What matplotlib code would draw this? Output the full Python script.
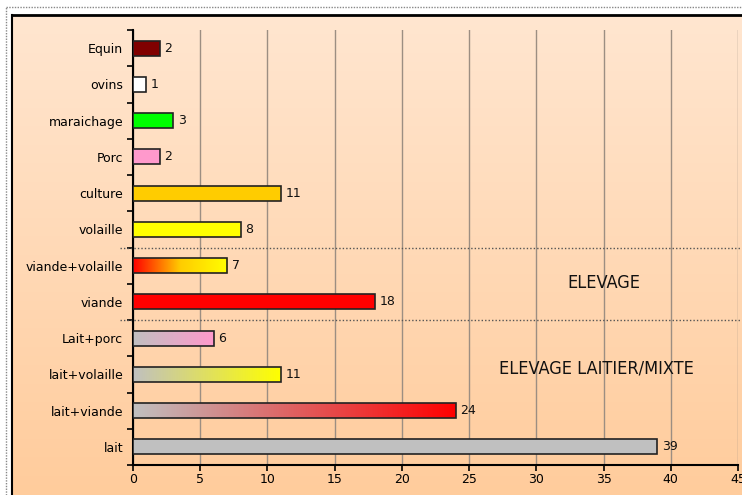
import numpy as np
import matplotlib
matplotlib.use("Agg")
import matplotlib.pyplot as plt
from matplotlib.colors import LinearSegmentedColormap
from matplotlib.lines import Line2D
import matplotlib.transforms as mtransforms

# data, listed from bottom to top
categories = ["lait", "lait+viande", "lait+volaille", "Lait+porc", "viande",
              "viande+volaille", "volaille", "culture", "Porc", "maraichage",
              "ovins", "Equin"]
values = [39, 24, 11, 6, 18, 7, 8, 11, 2, 3, 1, 2]
bar_colors = [
    ["#C0C0C0"],
    ["#C0C0C0", "#FF0000"],
    ["#C0C0C0", "#FFFF00"],
    ["#C0C0C0", "#FF99CC"],
    ["#FF0000"],
    ["#FF0000", "#FFCC00", "#FFFF00"],
    ["#FFFF00"],
    ["#FFCC00"],
    ["#FF99CC"],
    ["#00FF00"],
    ["#FFFFFF"],
    ["#800000"],
]
group_labels = ["ELEVAGE", "ELEVAGE LAITIER/MIXTE"]

W, H = 742, 495
fig = plt.figure(figsize=(W / 100, H / 100), dpi=100)
fig.patch.set_facecolor("white")

# peach gradient background inside the frame (light at the top)
bg = fig.add_axes([12 / W, 0, 1 - 12 / W, 1 - 15 / H])
bg.set_axis_off()
grad = LinearSegmentedColormap.from_list("bg", ["#FFE6D0", "#FFCC9C"])
bg.imshow(np.linspace(0, 1, 256).reshape(-1, 1), cmap=grad, aspect="auto",
          extent=[0, 1, 1, 0], origin="upper")
bg.set_xlim(0, 1)
bg.set_ylim(1, 0)

# frame and dotted border
fig.add_artist(Line2D([12 / W, 1], [1 - 15 / H] * 2, color="black", lw=2))
fig.add_artist(Line2D([12 / W] * 2, [0, 1 - 15 / H], color="black", lw=1.5))
fig.add_artist(Line2D([6 / W, 1], [1 - 7 / H] * 2, color="#888888", lw=1, ls=(0, (1, 1))))
fig.add_artist(Line2D([6 / W] * 2, [0, 1 - 7 / H], color="#888888", lw=1, ls=(0, (1, 1))))

ax = fig.add_axes([133 / W, 1 - 465 / H, 605 / W, 435 / H])
ax.patch.set_alpha(0)

h = 0.42
y = np.arange(len(categories))
for yi, v, cols in zip(y, values, bar_colors):
    if len(cols) == 1:
        ax.barh(yi, v, height=h, color=cols[0], edgecolor="#222222", lw=1.2, zorder=3)
    else:
        bar = ax.barh(yi, v, height=h, color="none", edgecolor="#222222", lw=1.2, zorder=4)[0]
        cm = LinearSegmentedColormap.from_list("g%d" % yi, cols)
        im = ax.imshow(np.linspace(0, 1, 256).reshape(1, -1), cmap=cm, aspect="auto",
                       extent=[0, v, yi - h / 2, yi + h / 2], zorder=3)
        im.set_clip_path(bar)
    ax.text(v + 0.35, yi, str(v), va="center", ha="left", fontsize=9, color="#111111", zorder=5)

ax.set_xlim(0, 45)
ax.set_ylim(-0.5, len(categories) - 0.5)
ax.set_xticks(np.arange(0, 46, 5))
ax.set_yticks(y)
ax.set_yticklabels(categories)
ax.set_yticks(np.arange(-0.5, len(categories), 1), minor=True)
ax.tick_params(axis="y", which="major", length=0, pad=7, labelsize=9)
ax.tick_params(axis="y", which="minor", length=4, width=1.2, direction="out")
ax.tick_params(axis="x", length=4, width=1.2, labelsize=9, pad=2)
ax.grid(axis="x", color="#9C8E82", lw=1, zorder=1)
for s in ["top", "right"]:
    ax.spines[s].set_visible(False)
ax.spines["left"].set_linewidth(1.5)
ax.spines["bottom"].set_linewidth(1.5)

# dotted separators between groups
tr = mtransforms.blended_transform_factory(ax.transAxes, ax.transData)
for yy in [5.5, 3.5]:
    ax.add_line(Line2D([-0.022, 1.01], [yy, yy], transform=tr, color="#555555",
                       lw=1, ls=(0, (1, 1.5)), clip_on=False, zorder=2))

ax.text(35.0, 4.52, group_labels[0], ha="center", va="center", fontsize=13,
        family="DejaVu Sans", fontstretch="condensed", color="#111111")
ax.text(34.5, 2.15, group_labels[1], ha="center", va="center", fontsize=13,
        family="DejaVu Sans", fontstretch="condensed", color="#111111")

fig.savefig("out.png", dpi=100)
